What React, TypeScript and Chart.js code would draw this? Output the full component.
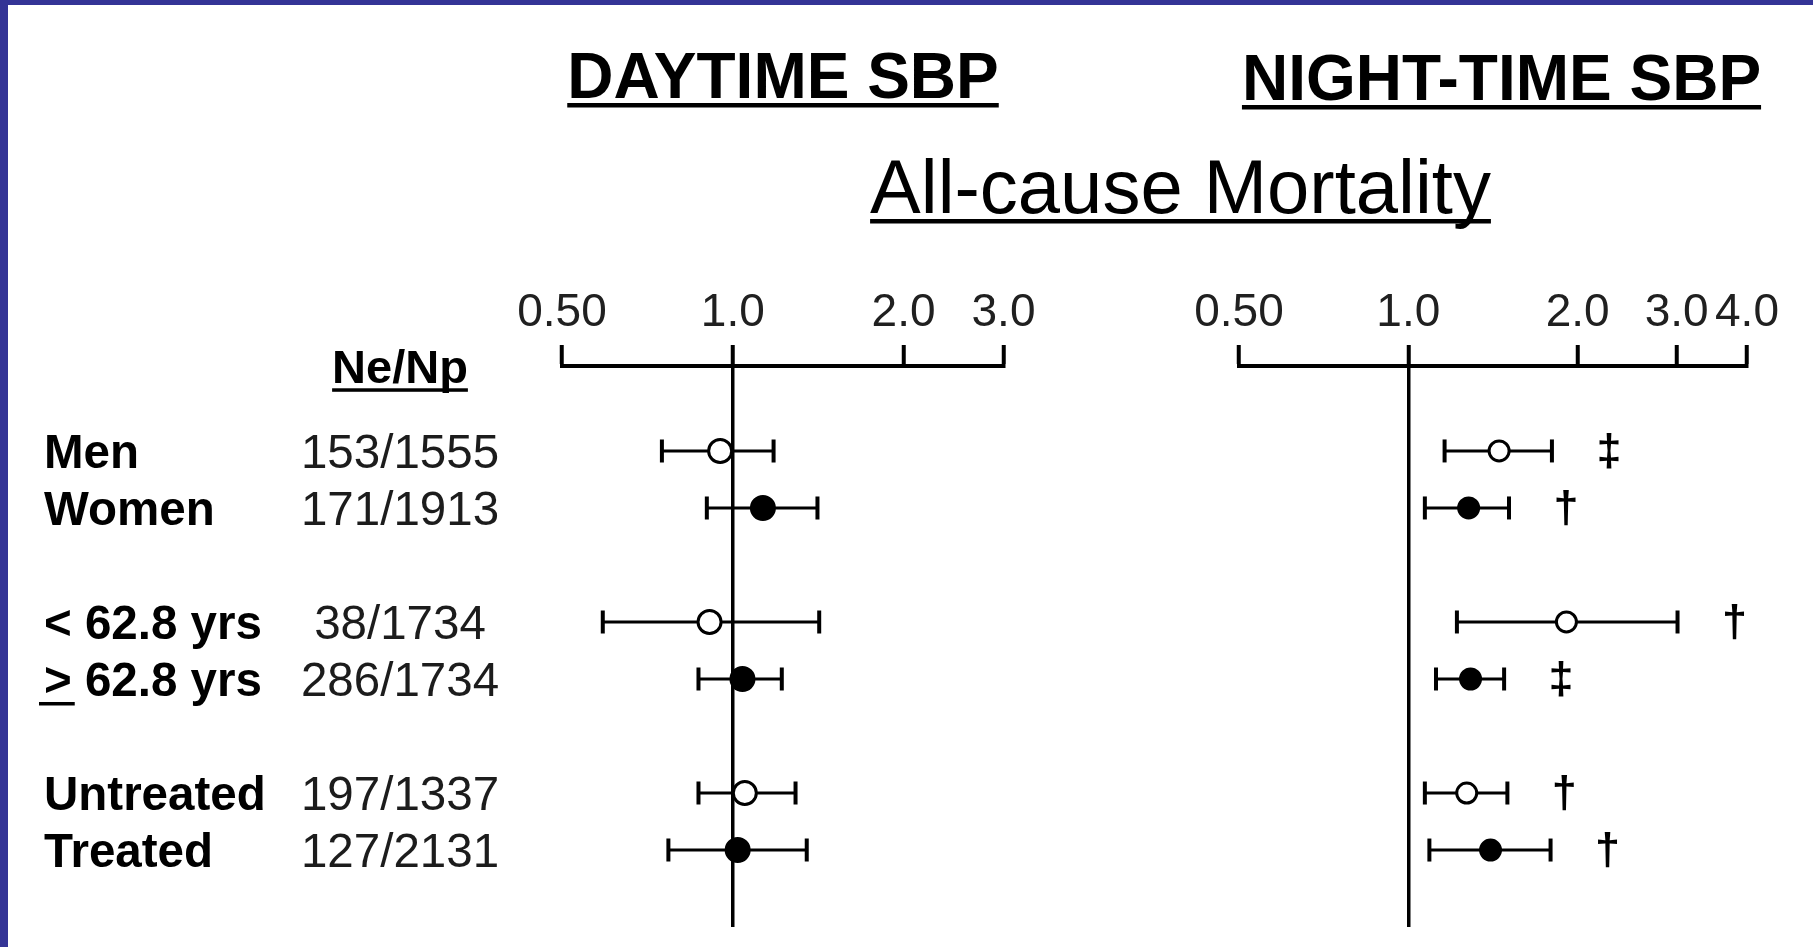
import React, { useEffect, useRef } from "react";
import { Chart, registerables } from "chart.js";

Chart.register(...registerables);

// ---------------- data ----------------
const ROW_POS = [0, 1, 3, 4, 6, 7];
const GROUP_LABELS = ["Men", "Women", "< 62.8 yrs", "≥ 62.8 yrs", "Untreated", "Treated"];
const EVENT_COUNTS = ["153/1555", "171/1913", "38/1734", "286/1734", "197/1337", "127/2131"];
const OPEN_MARKER = [true, false, true, false, true, false];

const DAY_HR = [0.95, 1.13, 0.91, 1.04, 1.05, 1.02];
const DAY_LO = [0.75, 0.9, 0.59, 0.87, 0.87, 0.77];
const DAY_HI = [1.18, 1.41, 1.42, 1.22, 1.29, 1.35];
const DAY_SIG = ["", "", "", "", "", ""];

const NIGHT_HR = [1.45, 1.28, 1.91, 1.29, 1.27, 1.4];
const NIGHT_LO = [1.16, 1.07, 1.22, 1.12, 1.07, 1.09];
const NIGHT_HI = [1.8, 1.51, 3.01, 1.48, 1.5, 1.79];
const NIGHT_SIG = ["‡", "†", "†", "‡", "†", "†"];

const DAY_TICKS = [0.5, 1, 2, 3];
const DAY_TICK_LABELS = ["0.50", "1.0", "2.0", "3.0"];
const NIGHT_TICKS = [0.5, 1, 2, 3, 4];
const NIGHT_TICK_LABELS = ["0.50", "1.0", "2.0", "3.0", "4.0"];

const TITLE_DAY = "DAYTIME SBP";
const TITLE_NIGHT = "NIGHT-TIME SBP";
const SUBTITLE = "All-cause Mortality";
const COUNT_HEADER = "Ne/Np";

// ---------------- layout / style ----------------
const W = 1813;
const H = 947;
const BLUE = "#343496";
const FONT = '"Liberation Sans", Arial, Helvetica, sans-serif';
const AXIS_BOX = 90;
const Y_MIN = -1.49;
const Y_MAX = 8.35;
const HEADER_ROW = -1.45;

type Panel = {
  hr: number[];
  lo: number[];
  hi: number[];
  sig: string[];
  ticks: number[];
  tickLabels: string[];
  min: number;
  max: number;
  padLeft: number;
  padRight: number;
  markerRadius: number;
  extra: any;
};

function drawUnderlinedText(ctx: CanvasRenderingContext2D, text: string, cx: number, base: number, font: string, ulOff: number, ulH: number) {
  ctx.font = font;
  ctx.textAlign = "center";
  ctx.textBaseline = "alphabetic";
  ctx.fillText(text, cx, base);
  const w = ctx.measureText(text).width;
  ctx.fillRect(cx - w / 2, base + ulOff, w, ulH);
}

const sigPlugin = (p: Panel) => ({
  id: "sigMarks",
  afterDatasetsDraw(chart: any) {
    const ctx = chart.ctx as CanvasRenderingContext2D;
    const xs = chart.scales.x;
    const ys = chart.scales.y;
    ctx.save();
    ctx.fillStyle = "#000";
    ctx.font = `bold 45px ${FONT}`;
    ctx.textAlign = "center";
    ctx.textBaseline = "alphabetic";
    p.sig.forEach((s, i) => {
      if (!s) return;
      const px = xs.getPixelForValue(p.hi[i]) + 57;
      const py = ys.getPixelForValue(ROW_POS[i]) + 14;
      ctx.fillText(s, px, py);
    });
    ctx.restore();
  },
});

const dayTextPlugin = {
  id: "dayText",
  afterDraw(chart: any) {
    const ctx = chart.ctx as CanvasRenderingContext2D;
    const ys = chart.scales.y;
    ctx.save();
    ctx.fillStyle = "#000";
    drawUnderlinedText(ctx, TITLE_DAY, 783, 98, `bold 64px ${FONT}`, 5, 4.5);
    // count header
    const hy = ys.getPixelForValue(HEADER_ROW) + 15;
    drawUnderlinedText(ctx, COUNT_HEADER, 400, hy, `bold 47px ${FONT}`, 5, 3.5);
    GROUP_LABELS.forEach((lab, i) => {
      const py = ys.getPixelForValue(ROW_POS[i]) + 17;
      ctx.fillStyle = "#000";
      ctx.font = `bold 47.5px ${FONT}`;
      ctx.textAlign = "left";
      ctx.textBaseline = "alphabetic";
      const x0 = 44;
      if (lab.startsWith("≥")) {
        const w = ctx.measureText(">").width;
        ctx.fillText(">", x0, py);
        ctx.fillRect(x0 - 5, py + 6, w + 8, 3.5);
        ctx.fillText(lab.slice(1), x0 + w, py);
      } else {
        ctx.fillText(lab, x0, py);
      }
      ctx.fillStyle = "#1c1c1c";
      ctx.font = `47.5px ${FONT}`;
      ctx.textAlign = "center";
      ctx.fillText(EVENT_COUNTS[i], 400, py);
    });
    ctx.restore();
  },
};

const nightTextPlugin = {
  id: "nightText",
  afterDraw(chart: any) {
    const ctx = chart.ctx as CanvasRenderingContext2D;
    ctx.save();
    ctx.fillStyle = "#000";
    drawUnderlinedText(ctx, TITLE_NIGHT, 1501.5, 100, `bold 64px ${FONT}`, 5, 4.5);
    drawUnderlinedText(ctx, SUBTITLE, 1180.5, 213, `76px ${FONT}`, 6, 4.5);
    ctx.restore();
  },
};

function buildConfig(p: Panel): any {
  const datasets: any[] = [];
  datasets.push({
    type: "scatter",
    data: p.hr.map((v, i) => ({ x: v, y: ROW_POS[i] })),
    pointStyle: "circle",
    pointRadius: p.markerRadius,
    pointHoverRadius: p.markerRadius,
    pointBorderWidth: 3,
    pointBorderColor: "#000",
    pointBackgroundColor: OPEN_MARKER.map((o) => (o ? "#fff" : "#000")),
    order: 0,
  });
  datasets.push({
    type: "scatter",
    data: [
      ...p.lo.map((v, i) => ({ x: v, y: ROW_POS[i] })),
      ...p.hi.map((v, i) => ({ x: v, y: ROW_POS[i] })),
    ],
    pointStyle: "line",
    pointRotation: 90,
    pointRadius: 11.5,
    pointHoverRadius: 11.5,
    pointBorderWidth: 4,
    pointBorderColor: "#000",
    order: 1,
  });
  p.lo.forEach((lo, i) => {
    datasets.push({
      type: "line",
      data: [
        { x: lo, y: ROW_POS[i] },
        { x: p.hi[i], y: ROW_POS[i] },
      ],
      borderColor: "#000",
      borderWidth: 3,
      pointRadius: 0,
      fill: false,
      order: 2,
    });
  });

  return {
    type: "scatter",
    data: { datasets },
    options: {
      animation: false,
      responsive: false,
      devicePixelRatio: 1,
      events: [],
      layout: { padding: { left: p.padLeft, right: p.padRight, top: 366 - AXIS_BOX, bottom: H - 927 } },
      plugins: { legend: { display: false }, tooltip: { enabled: false }, title: { display: false } },
      scales: {
        x: {
          type: "logarithmic",
          position: "top",
          min: p.min,
          max: p.max,
          afterBuildTicks: (s: any) => {
            s.ticks = p.ticks.map((v) => ({ value: v }));
          },
          afterFit: (s: any) => {
            s.height = AXIS_BOX;
          },
          ticks: {
            autoSkip: false,
            maxRotation: 0,
            minRotation: 0,
            padding: 4,
            color: "#202020",
            font: { family: FONT, size: 46 },
            callback: (v: any) => {
              const k = p.ticks.indexOf(Number(v));
              return k >= 0 ? p.tickLabels[k] : "";
            },
          },
          grid: {
            display: true,
            drawOnChartArea: true,
            drawTicks: true,
            tickLength: 21,
            tickWidth: 4,
            tickColor: "#000",
            lineWidth: 3.5,
            color: (c: any) => (c.tick && c.tick.value === 1 ? "#000" : "rgba(0,0,0,0)"),
          },
          border: { display: true, color: "#000", width: 4 },
        },
        y: { type: "linear", min: Y_MIN, max: Y_MAX, reverse: true, display: false },
      },
    },
    plugins: [sigPlugin(p), p.extra],
  };
}

const DAY_PANEL: Panel = {
  hr: DAY_HR,
  lo: DAY_LO,
  hi: DAY_HI,
  sig: DAY_SIG,
  ticks: DAY_TICKS,
  tickLabels: DAY_TICK_LABELS,
  min: 0.5,
  max: 3,
  padLeft: 562,
  padRight: W - 1003.5,
  markerRadius: 11.5,
  extra: dayTextPlugin,
};

const NIGHT_PANEL: Panel = {
  hr: NIGHT_HR,
  lo: NIGHT_LO,
  hi: NIGHT_HI,
  sig: NIGHT_SIG,
  ticks: NIGHT_TICKS,
  tickLabels: NIGHT_TICK_LABELS,
  min: 0.5,
  max: 4,
  padLeft: 1239,
  padRight: W - 1747,
  markerRadius: 10,
  extra: nightTextPlugin,
};

function PanelChart({ panel }: { panel: Panel }) {
  const ref = useRef<HTMLCanvasElement | null>(null);
  useEffect(() => {
    if (!ref.current) return;
    const chart = new Chart(ref.current, buildConfig(panel));
    return () => chart.destroy();
  }, [panel]);
  return (
    <canvas
      ref={ref}
      width={W}
      height={H}
      style={{ position: "absolute", left: 0, top: 0, width: W, height: H }}
    />
  );
}

export default function App() {
  return (
    <div
      style={{
        position: "absolute",
        left: 0,
        top: 0,
        width: W,
        height: H,
        background: "#fff",
        overflow: "hidden",
      }}
    >
      <PanelChart panel={DAY_PANEL} />
      <PanelChart panel={NIGHT_PANEL} />
      <div style={{ position: "absolute", left: 0, top: 0, width: 8, height: H, background: BLUE }} />
      <div style={{ position: "absolute", left: 0, top: 0, width: W, height: 5, background: BLUE }} />
    </div>
  );
}
